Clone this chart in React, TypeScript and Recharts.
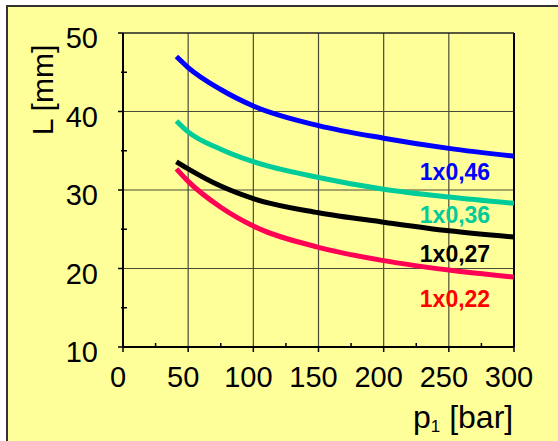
import { LineChart, Line, XAxis, YAxis, ReferenceLine } from "recharts";

const pressure = [41, 50, 75, 100, 150, 200, 250, 300];
const wire046 = [47.0, 45.6, 42.8, 40.7, 38.2, 36.6, 35.3, 34.3];
const wire036 = [38.8, 37.4, 35.2, 33.6, 31.6, 30.1, 29.1, 28.3];
const wire027 = [33.6, 32.7, 30.5, 28.9, 27.1, 25.9, 24.8, 24.0];
const wire022 = [32.7, 31.1, 27.8, 25.4, 22.7, 21.0, 19.8, 18.9];

// major ticks get a label + gridline, the rest are minor ticks
const xTicks = [0, 50, 100, 150, 200, 250, 300];
const xAllTicks = [0, 25, 50, 75, 100, 125, 150, 175, 200, 225, 250, 275, 300];
const yTicks = [10, 20, 30, 40, 50];
const yAllTicks = [10, 15, 20, 25, 30, 35, 40, 45, 50];

const seriesLabels = ["1x0,46", "1x0,36", "1x0,27", "1x0,22"];

const data = pressure.map((p, i) => ({
  p,
  w046: wire046[i],
  w036: wire036[i],
  w027: wire027[i],
  w022: wire022[i],
}));

const FONT = "'Liberation Sans', Arial, sans-serif";

function XTick({ x, y, payload }: any) {
  const major = xTicks.includes(payload.value);
  if (!major) {
    return <line x1={x} x2={x} y1={y - 4} y2={y + 1} stroke="#000" strokeWidth={1.5} />;
  }
  return (
    <g>
      <line x1={x} x2={x} y1={y} y2={y + 5} stroke="#000" strokeWidth={1.5} />
      <text x={x - 5} y={y + 40} textAnchor="middle" fontSize={29} fill="#000" fontFamily={FONT}>
        {payload.value}
      </text>
    </g>
  );
}

function YTick({ x, y, payload }: any) {
  const major = yTicks.includes(payload.value);
  if (!major) {
    return <line x1={x - 2} x2={x + 4} y1={y} y2={y} stroke="#000" strokeWidth={1.5} />;
  }
  return (
    <g>
      <line x1={x - 5} x2={x} y1={y} y2={y} stroke="#000" strokeWidth={1.5} />
      <text x={x - 25} y={y + 15} textAnchor="end" fontSize={29} fill="#000" fontFamily={FONT}>
        {payload.value}
      </text>
    </g>
  );
}

export default function App() {
  return (
    <div style={{ position: "absolute", left: 0, top: 0, width: 558, height: 441, overflow: "hidden", background: "#fff" }}>
      <div
        style={{
          position: "absolute",
          left: 6,
          top: 5,
          width: 620,
          height: 520,
          border: "2px solid #333",
          background: "#FFFF99",
        }}
      />
      <div style={{ position: "absolute", left: 0, top: 0 }}>
        <LineChart width={558} height={441} data={data} margin={{ top: 33, right: 44, bottom: 93, left: 122 }}>
          {xTicks.slice(1, -1).map((t) => (
            <ReferenceLine key={"gx" + t} x={t} stroke="#4a4a3a" strokeWidth={1.2} />
          ))}
          {yTicks.slice(1, -1).map((t) => (
            <ReferenceLine key={"gy" + t} y={t} stroke="#4a4a3a" strokeWidth={1.2} />
          ))}
          <ReferenceLine x={300} stroke="#000" strokeWidth={2} />
          <ReferenceLine y={50} stroke="#222" strokeWidth={1.5} />
          <XAxis
            dataKey="p"
            type="number"
            domain={[0, 300]}
            ticks={xAllTicks}
            interval={0}
            height={1}
            tickSize={0}
            tickMargin={0}
            axisLine={{ stroke: "#000", strokeWidth: 2 }}
            tickLine={false}
            tick={<XTick />}
          />
          <YAxis
            type="number"
            domain={[10, 50]}
            ticks={yAllTicks}
            interval={0}
            width={1}
            tickSize={0}
            tickMargin={0}
            axisLine={{ stroke: "#000", strokeWidth: 2 }}
            tickLine={false}
            tick={<YTick />}
          />
          <Line type="monotone" dataKey="w046" stroke="#0000FF" strokeWidth={5} dot={false} isAnimationActive={false} />
          <Line type="monotone" dataKey="w036" stroke="#00CC99" strokeWidth={5} dot={false} isAnimationActive={false} />
          <Line type="monotone" dataKey="w027" stroke="#000000" strokeWidth={5} dot={false} isAnimationActive={false} />
          <Line type="monotone" dataKey="w022" stroke="#FF0055" strokeWidth={5} dot={false} isAnimationActive={false} />
        </LineChart>
      </div>
      <svg width={558} height={441} style={{ position: "absolute", left: 0, top: 0, pointerEvents: "none" }} fontFamily={FONT}>
        <text transform="translate(53,90) rotate(-90)" textAnchor="middle" fontSize={30} fill="#000">
          L [mm]
        </text>
        <text x={413} y={428} fontSize={32} fill="#000">
          p
          <tspan fontSize={17} dy={4}>1</tspan>
          <tspan dy={-4}>{" [bar]"}</tspan>
        </text>
        <text x={455} y={180} textAnchor="middle" fontSize={23} fontWeight="bold" fill="#0000FF">
          {seriesLabels[0]}
        </text>
        <text x={455} y={223} textAnchor="middle" fontSize={23} fontWeight="bold" fill="#00CC99">
          {seriesLabels[1]}
        </text>
        <text x={455} y={262} textAnchor="middle" fontSize={23} fontWeight="bold" fill="#000000">
          {seriesLabels[2]}
        </text>
        <text x={455} y={307} textAnchor="middle" fontSize={23} fontWeight="bold" fill="#FF0000">
          {seriesLabels[3]}
        </text>
      </svg>
    </div>
  );
}
